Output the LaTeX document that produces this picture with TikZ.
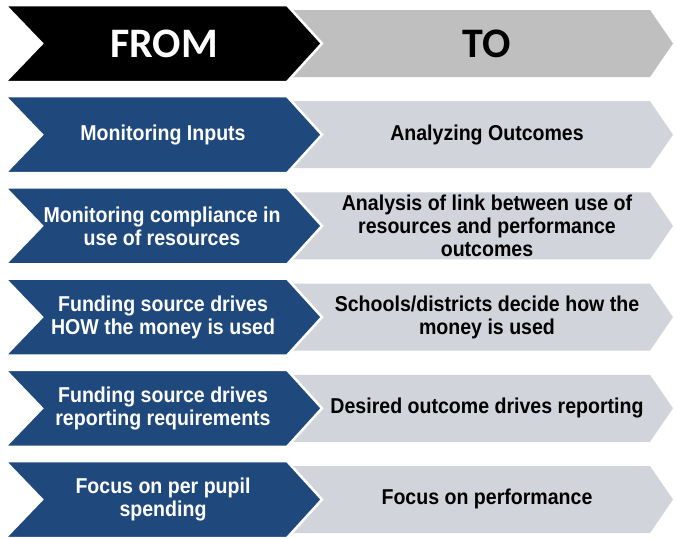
\documentclass[tikz,border=0pt]{standalone}
\usepackage{fontspec}
\setmainfont{Liberation Sans}
\newfontfamily\bodyfont[FakeStretch=0.91]{Liberation Sans}
\newfontfamily\headfont{Carlito}
\definecolor{navy}{RGB}{31,73,125}
\definecolor{lightgr}{RGB}{209,212,219}
\definecolor{headgr}{RGB}{191,191,191}
\begin{document}
\begin{tikzpicture}[x=1pt,y=-1pt,
  leftbody/.style={line width=2.5pt, draw=white, line join=miter},
  ltext/.style={font=\bodyfont\bfseries\fontsize{21.5}{23}\selectfont, text=white, align=center, inner sep=0pt},
  rtext/.style={font=\bodyfont\bfseries\fontsize{21.5}{23}\selectfont, text=black, align=center, inner sep=0pt},
  htext/.style={font=\headfont\bfseries\fontsize{42}{44}\selectfont, inner sep=0pt}]
\useasboundingbox (0,0) rectangle (676,538);
\fill[white] (0,0) rectangle (676,538);
% rows: index, left fill, right fill
\foreach \i/\lc/\rc in {0/black/headgr,1/navy/lightgr,2/navy/lightgr,3/navy/lightgr,4/navy/lightgr,5/navy/lightgr}{
  \pgfmathsetmacro{\T}{5+91.2*\i}
  \pgfmathsetmacro{\C}{\T+38.5}
  \pgfmathsetmacro{\B}{\T+77}
  \pgfmathsetmacro{\Ti}{\T+5}
  \pgfmathsetmacro{\Bi}{\B-5}
  \fill[\rc] (285,\Ti) -- (650,\Ti) -- (673,\C) -- (650,\Bi) -- (285,\Bi) -- cycle;
  \filldraw[leftbody, fill=\lc] (5,\T) -- (287,\T) -- (322,\C) -- (287,\B) -- (5,\B) -- (42,\C) -- cycle;
}
\node[htext, text=white] (from) at (164,44) {FROM};
\node[htext, text=black] (to) at (487,44) {TO};
\node[ltext] (l1) at (163,135) {Monitoring Inputs};
\node[rtext] (r1) at (487,135) {Analyzing Outcomes};
\node[ltext] (l2) at (162,226) {Monitoring compliance in\\use of resources};
\node[rtext] (r2) at (487,226) {Analysis of link between use of\\resources and performance\\outcomes};
\node[ltext] (l3) at (163,317) {Funding source drives\\HOW the money is used};
\node[rtext] (r3) at (487,317) {Schools/districts decide how the\\money is used};
\node[ltext] (l4) at (163,408) {Funding source drives\\reporting requirements};
\node[rtext] (r4) at (487,408) {Desired outcome drives reporting};
\node[ltext] (l5) at (163,499) {Focus on per pupil\\spending};
\node[rtext] (r5) at (487,499) {Focus on performance};
\end{tikzpicture}
\end{document}
